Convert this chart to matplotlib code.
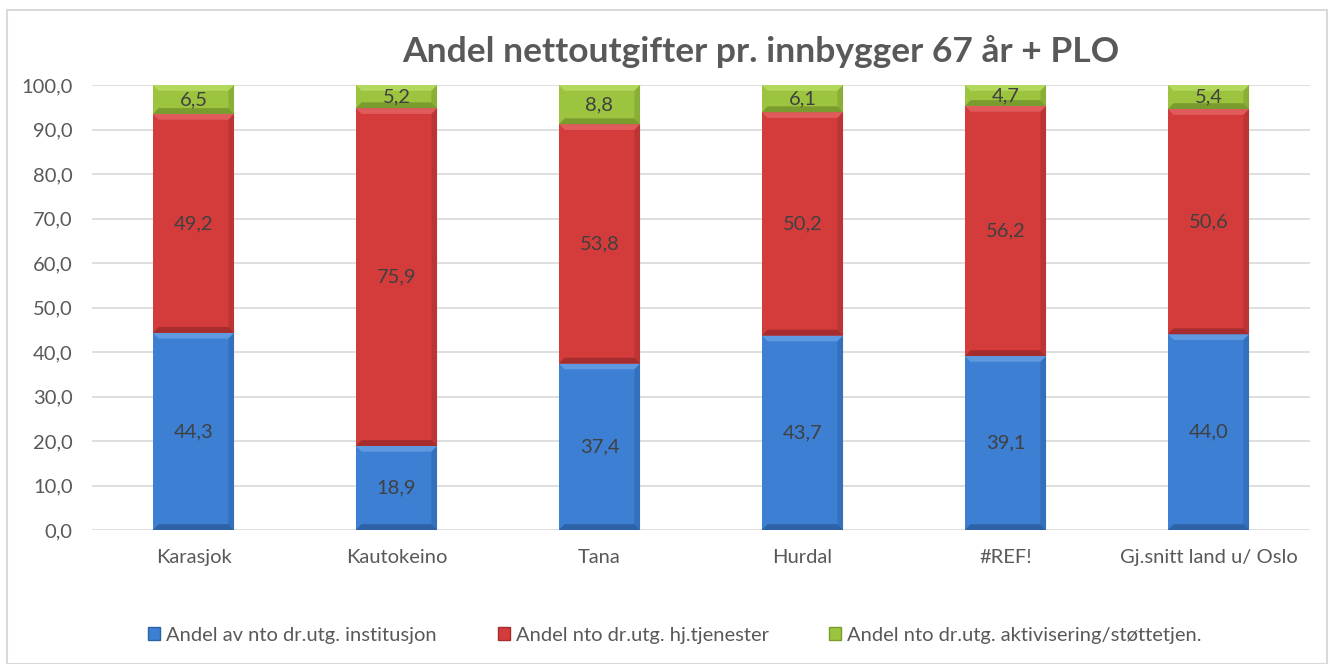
import matplotlib
matplotlib.use("Agg")
import matplotlib.pyplot as plt
from matplotlib.patches import Polygon, Rectangle
import numpy as np

categories = ["Karasjok", "Kautokeino", "Tana", "Hurdal", "#REF!", "Gj.snitt land u/ Oslo"]
institusjon = [44.3, 18.9, 37.4, 43.7, 39.1, 44.0]
hjtjenester = [49.2, 75.9, 53.8, 50.2, 56.2, 50.6]
aktivisering = [6.5, 5.2, 8.8, 6.1, 4.7, 5.4]
series_names = ["Andel av nto dr.utg. institusjon", "Andel nto dr.utg. hj.tjenester",
                "Andel nto dr.utg. aktivisering/støttetjen."]
colors = ["#3c7fd3", "#d43c3c", "#9cc43f"]
light = ["#5f99e0", "#e05b5b", "#b3d85e"]
dark = ["#2d62a6", "#a52d2d", "#7a9c2e"]

plt.rcParams['font.family'] = ['Lato', 'DejaVu Sans']
fig = plt.figure(figsize=(13.3, 6.64), dpi=100)
ax = fig.add_axes([92/1330, (664-530)/664, (1310-92)/1330, 445/664])

x = np.arange(len(categories))
width = 0.40
ax.set_xlim(-0.5, len(categories) - 0.5)
ax.set_ylim(0, 100)

bx = 0.028   # bevel in x data units
by = 1.3     # bevel in y data units
bottoms = np.zeros(len(categories))
for vals, c, lc, dc in zip([institusjon, hjtjenester, aktivisering], colors, light, dark):
    vals = np.array(vals)
    ax.bar(x, vals, width, bottom=bottoms, color=c, edgecolor='none', zorder=2)
    for xi, b, v in zip(x, bottoms, vals):
        l, r = xi - width/2, xi + width/2
        t = b + v
        ax.add_patch(Polygon([(l, t), (r, t), (r-bx, t-by), (l+bx, t-by)], closed=True,
                             facecolor=lc, edgecolor='none', zorder=3))
        ax.add_patch(Polygon([(l, b), (r, b), (r-bx, b+by), (l+bx, b+by)], closed=True,
                             facecolor=dc, edgecolor='none', zorder=3))
        ax.add_patch(Polygon([(r, b), (r, t), (r-bx, t-by), (r-bx, b+by)], closed=True,
                             facecolor=dc, edgecolor='none', alpha=0.5, zorder=3))
        ax.text(xi, b + v/2, f"{v:.1f}".replace('.', ','), ha='center', va='center',
                fontsize=14.5, color='#404040', zorder=4)
    bottoms = bottoms + vals

ax.set_yticks(np.arange(0, 101, 10))
ax.set_yticklabels([f"{v:.1f}".replace('.', ',') for v in np.arange(0, 101, 10)])
ax.set_xticks(x)
ax.set_xticklabels(categories)
ax.tick_params(axis='both', length=0, labelsize=14.5, labelcolor='#595959')
ax.tick_params(axis='y', pad=14)
ax.tick_params(axis='x', pad=14)
ax.yaxis.grid(True, color='#d9d9d9', linewidth=1.2, zorder=0)
ax.set_axisbelow(True)
for s in ax.spines.values():
    s.set_visible(False)

fig.text(761/1330, 1 - 52/664, "Andel nettoutgifter pr. innbygger 67 år + PLO", ha='center', va='center',
         fontsize=25.5, fontweight='bold', color='#595959')

# legend
handles = [Rectangle((0, 0), 1, 1, facecolor=c, edgecolor=dc) for c, dc in zip(colors, dark)]
fig.legend(handles, series_names, loc='center', bbox_to_anchor=(675/1330, 1 - 635/664), ncol=3,
           frameon=False, fontsize=14.5, labelcolor='#595959', handlelength=0.6, handleheight=0.6,
           handletextpad=0.3, columnspacing=3.0)

# outer border
fig.add_artist(Rectangle((7/1330, 0), 1 - 7/1330 - 0.002, 1 - 10/664, transform=fig.transFigure,
                         fill=False, edgecolor='#d9d9d9', linewidth=1.5))

fig.savefig("out.png", dpi=100)
